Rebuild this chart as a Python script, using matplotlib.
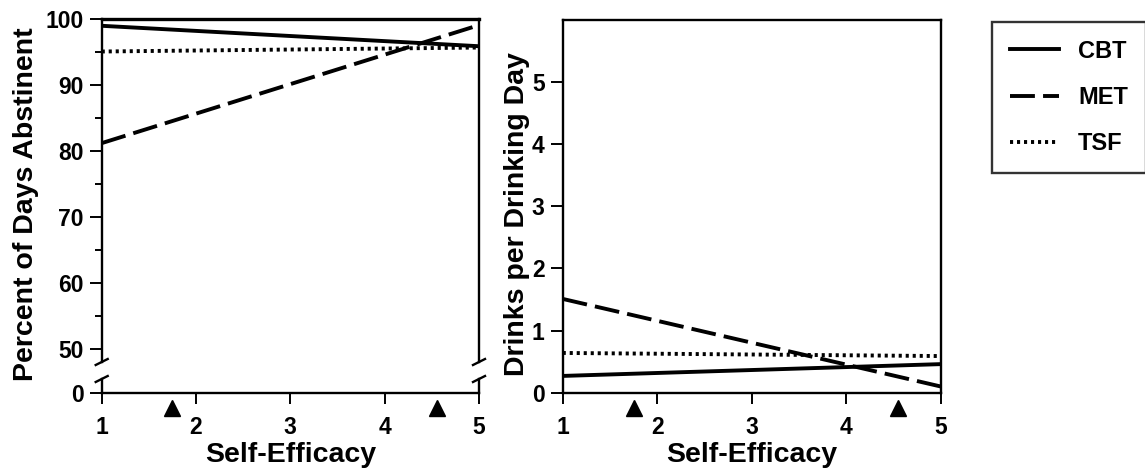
import matplotlib.pyplot as plt
from matplotlib.transforms import offset_copy
import numpy as np

plt.rcParams['font.family'] = ['Liberation Sans', 'DejaVu Sans']
plt.rcParams['font.weight'] = 'bold'

# data (end points of each regression line)
efficacy = [1, 5]
groups = ['CBT', 'MET', 'TSF']
pda = {'CBT': [99.0, 95.9], 'MET': [81.2, 99.1], 'TSF': [95.1, 95.7]}
dpd = {'CBT': [0.27, 0.46], 'MET': [1.51, 0.10], 'TSF': [0.64, 0.59]}
markers_x = [1.75, 4.55]   # triangles under the x axis

xticks = [1, 2, 3, 4, 5]
pda_ticks = [50, 60, 70, 80, 90, 100]
pda_minor = [55, 65, 75, 85, 95]
dpd_ticks = [0, 1, 2, 3, 4, 5]

lw = 2.8
styles = {
    'CBT': dict(linestyle='-'),
    'MET': dict(dashes=(6.4, 2.1)),
    'TSF': dict(dashes=(0.8, 1.0)),
}

fs_tick = 16.5
fs_label = 20.5

fig = plt.figure(figsize=(11.45, 4.71), dpi=100)
W, H = 1145.0, 471.0

def box(x0, x1, ytop, ybot):
    return [x0 / W, 1 - ybot / H, (x1 - x0) / W, (ybot - ytop) / H]

ax_top = fig.add_axes(box(101.7, 479, 19.2, 362))
ax_bot = fig.add_axes(box(101.7, 479, 379, 392.7))
ax_r = fig.add_axes(box(562.7, 940.7, 20, 392.7))

for ax in (ax_top, ax_bot, ax_r):
    for s in ax.spines.values():
        s.set_linewidth(1.7)
    ax.tick_params(which='major', length=9, width=1.4, labelsize=fs_tick, pad=4)
    ax.tick_params(which='minor', length=5, width=1.4)
    ax.set_xlim(1, 5)

# left panel, broken y axis
handles = []
for g in groups:
    h, = ax_top.plot(efficacy, pda[g], color='k', lw=lw, label=g, **styles[g])
    handles.append(h)
ax_top.set_ylim(48.0, 100)
ax_top.set_yticks(pda_ticks)
ax_top.set_yticks(pda_minor, minor=True)
ax_top.spines['bottom'].set_visible(False)
ax_top.tick_params(axis='x', which='both', bottom=False, labelbottom=False)
ax_top.spines['top'].set_linewidth(2.4)

ax_bot.set_ylim(0, 2.08)
ax_bot.set_yticks([0])
ax_bot.spines['top'].set_visible(False)

# break marks
for ax, ylev in ((ax_top, 0.0), (ax_bot, 1.0)):
    bb = ax.get_position()
    dx = 6 / (bb.width * W)
    dy = 3 / (bb.height * H)
    for xs in (0.0, 1.0):
        ax.plot([xs - dx, xs + dx], [ylev - dy, ylev + dy], color='k', lw=1.7,
                transform=ax.transAxes, clip_on=False)

# right panel
for g in groups:
    ax_r.plot(efficacy, dpd[g], color='k', lw=lw, **styles[g])
ax_r.set_ylim(0, 6)
ax_r.set_yticks(dpd_ticks)

for ax in (ax_bot, ax_r):
    ax.set_xticks(xticks)
    ax.tick_params(axis='x', length=8, pad=9)
    ax.set_xlabel('Self-Efficacy', fontsize=fs_label, fontweight='bold', labelpad=2)
    tr = offset_copy(ax.get_xaxis_transform(), fig=fig, x=0, y=-11, units='points')
    ax.plot(markers_x, [0, 0], linestyle='none', marker='^', ms=11, color='k',
            transform=tr, clip_on=False)

ax_top.set_ylabel('Percent of Days Abstinent', fontsize=fs_label, fontweight='bold')
ax_top.yaxis.set_label_coords(-0.166, 0.46)
ax_r.set_ylabel('Drinks per Drinking Day', fontsize=fs_label, fontweight='bold')
ax_r.yaxis.set_label_coords(-0.087, 0.48)

leg = fig.legend(handles=handles, loc='upper left', bbox_to_anchor=(992 / W, 1 - 22 / H),
                 borderaxespad=0, prop={'weight': 'bold', 'size': 17},
                 frameon=True, fancybox=False, edgecolor='k', handlelength=2.1,
                 handletextpad=0.8, borderpad=0.75, labelspacing=0.98)
leg.get_frame().set_linewidth(1.7)

fig.savefig('out.png', dpi=100)
